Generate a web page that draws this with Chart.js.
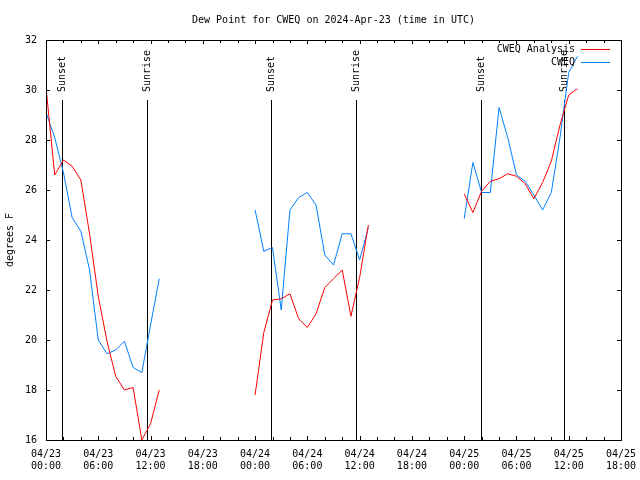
<!DOCTYPE html>
<html>
<head>
<meta charset="utf-8">
<script src="https://cdn.jsdelivr.net/npm/chart.js@4"></script>
<style>
  html, body { margin: 0; padding: 0; background: #fff; }
</style>
</head>
<body>
<canvas id="dewChart" width="640" height="480"></canvas>
<script>
// hours since 2024-04-23 00:00 UTC
const hours = [
  0, 1, 2, 3, 4, 5, 6, 7, 8, 9, 10, 11, 12, 13,
  14, 15, 16, 17, 18, 19, 20, 21, 22, 23,
  24, 25, 26, 27, 28, 29, 30, 31, 32, 33, 34, 35, 36, 37,
  38, 39, 40, 41, 42, 43, 44, 45, 46, 47,
  48, 49, 50, 51, 52, 53, 54, 55, 56, 57, 58, 59, 60, 61
];

// CWEQ Analysis (red)
const analysis = [
  30.1, 26.6, 27.2, 26.95, 26.4, 24.25, 21.75, 19.95, 18.55, 18.0, 18.1, 16.0, 16.65, 18.0,
  null, null, null, null, null, null, null, null, null, null,
  17.8, 20.3, 21.6, 21.65, 21.85, 20.85, 20.5, 21.05, 22.1, 22.45, 22.8, 20.95, 22.5, 24.6,
  null, null, null, null, null, null, null, null, null, null,
  25.85, 25.1, 25.95, 26.35, 26.45, 26.65, 26.55, 26.25, 25.65, 26.3, 27.15, 28.6, 29.8, 30.05
];

// CWEQ observed (blue)
const observed = [
  29.1, 28.1, 26.7, 24.9, 24.35, 22.8, 20.0, 19.45, 19.6, 19.95, 18.9, 18.7, 20.6, 22.45,
  null, null, null, null, null, null, null, null, null, null,
  25.2, 23.55, 23.7, 21.2, 25.2, 25.7, 25.9, 25.4, 23.4, 23.0, 24.25, 24.25, 23.2, 24.5,
  null, null, null, null, null, null, null, null, null, null,
  24.85, 27.1, 25.9, 25.9, 29.3, 28.1, 26.6, 26.35, 25.8, 25.2, 25.9, 28.1, 30.7, 31.35
];

const sunHours = [1.87, 11.63, 25.86, 35.62, 49.97, 59.49];
const sunLabels = ['Sunset', 'Sunrise', 'Sunset', 'Sunrise', 'Sunset', 'Sunrise'];

const dayLabels = ['04/23', '04/24', '04/25'];
const titleText = 'Dew Point for CWEQ on 2024-Apr-23 (time in UTC)';
const yTitle = 'degrees F';

const monoFont = '10px "DejaVu Sans Mono", monospace';
const redColor = '#ff0000';
const blueColor = '#0080ff';

Chart.defaults.font.family = '"DejaVu Sans Mono", monospace';
Chart.defaults.font.size = 10;
Chart.defaults.color = '#000';

// gnuplot look: frame, inward ticks, title, key and sun markers
const gnuplotFrame = {
  id: 'gnuplotFrame',
  beforeDatasetsDraw(chart) {
    const { ctx, chartArea: a, scales: { x } } = chart;
    ctx.save();
    ctx.strokeStyle = '#000';
    ctx.fillStyle = '#000';
    ctx.lineWidth = 1;
    ctx.font = monoFont;
    const yTop = a.bottom - 0.85 * (a.bottom - a.top);
    sunHours.forEach((h, i) => {
      const px = Math.round(x.getPixelForValue(h)) + 0.5;
      ctx.beginPath();
      ctx.moveTo(px, yTop);
      ctx.lineTo(px, a.bottom);
      ctx.stroke();
      ctx.save();
      ctx.translate(px, yTop - 8);
      ctx.rotate(-Math.PI / 2);
      ctx.textAlign = 'left';
      ctx.textBaseline = 'middle';
      ctx.fillText(sunLabels[i], 0, 0);
      ctx.restore();
    });
    ctx.restore();
  },
  afterDraw(chart) {
    const { ctx, chartArea: a, scales: { x, y } } = chart;
    ctx.save();
    ctx.strokeStyle = '#000';
    ctx.fillStyle = '#000';
    ctx.lineWidth = 1;

    // border
    ctx.strokeRect(a.left + 0.5, a.top + 0.5, a.right - a.left, a.bottom - a.top);

    // x ticks (inward, mirrored)
    x.ticks.forEach(t => {
      const px = Math.round(x.getPixelForValue(t.value)) + 0.5;
      const len = t.value % 6 === 0 ? 4 : 3;
      ctx.beginPath();
      ctx.moveTo(px, a.bottom); ctx.lineTo(px, a.bottom - len);
      ctx.moveTo(px, a.top); ctx.lineTo(px, a.top + len);
      ctx.stroke();
    });
    // y ticks
    y.ticks.forEach(t => {
      const py = Math.round(y.getPixelForValue(t.value)) + 0.5;
      ctx.beginPath();
      ctx.moveTo(a.left, py); ctx.lineTo(a.left + 4, py);
      ctx.moveTo(a.right, py); ctx.lineTo(a.right - 4, py);
      ctx.stroke();
    });

    ctx.font = monoFont;
    // title
    ctx.textAlign = 'center';
    ctx.textBaseline = 'middle';
    ctx.fillText(titleText, (a.left + a.right) / 2, 20);

    // y title
    ctx.save();
    ctx.translate(10, (a.top + a.bottom) / 2);
    ctx.rotate(-Math.PI / 2);
    ctx.fillText(yTitle, 0, 0);
    ctx.restore();

    // key
    const keyItems = chart.data.datasets;
    keyItems.forEach((ds, i) => {
      const ky = 49 + i * 13;
      ctx.textAlign = 'right';
      ctx.fillStyle = '#000';
      ctx.fillText(ds.label, 575, ky);
      ctx.strokeStyle = ds.borderColor;
      ctx.beginPath();
      ctx.moveTo(581, ky + 0.5);
      ctx.lineTo(610, ky + 0.5);
      ctx.stroke();
    });
    ctx.restore();
  }
};

const ctx = document.getElementById('dewChart').getContext('2d');
new Chart(ctx, {
  type: 'line',
  data: {
    datasets: [{
      label: 'CWEQ Analysis',
      data: hours.map((h, i) => ({ x: h, y: analysis[i] })),
      borderColor: redColor,
      borderWidth: 1,
      pointRadius: 0,
      tension: 0,
      spanGaps: false
    }, {
      label: 'CWEQ',
      data: hours.map((h, i) => ({ x: h, y: observed[i] })),
      borderColor: blueColor,
      borderWidth: 1,
      pointRadius: 0,
      tension: 0,
      spanGaps: false
    }]
  },
  options: {
    responsive: false,
    animation: false,
    layout: { padding: { top: 40, right: 19, left: 0, bottom: 0 } },
    plugins: {
      legend: { display: false },
      tooltip: { enabled: false }
    },
    scales: {
      x: {
        type: 'linear',
        min: 0,
        max: 66,
        grid: { display: false, drawTicks: false },
        border: { display: false },
        afterFit: s => {
          s.height = 40;
          s.paddingLeft = 0;
          s.paddingRight = 0;
        },
        ticks: {
          stepSize: 2,
          autoSkip: false,
          maxRotation: 0,
          padding: 8,
          callback: v => {
            if (v % 6 !== 0) return '';
            const day = dayLabels[Math.floor(v / 24)];
            const hh = String(v % 24).padStart(2, '0');
            return [day, hh + ':00'];
          }
        }
      },
      y: {
        min: 16,
        max: 32,
        grid: { display: false, drawTicks: false },
        border: { display: false },
        afterFit: s => {
          s.width = 46;
          s.paddingTop = 0;
          s.paddingBottom = 0;
        },
        ticks: { stepSize: 2, padding: 9 }
      }
    }
  },
  plugins: [gnuplotFrame]
});
</script>
</body>
</html>
